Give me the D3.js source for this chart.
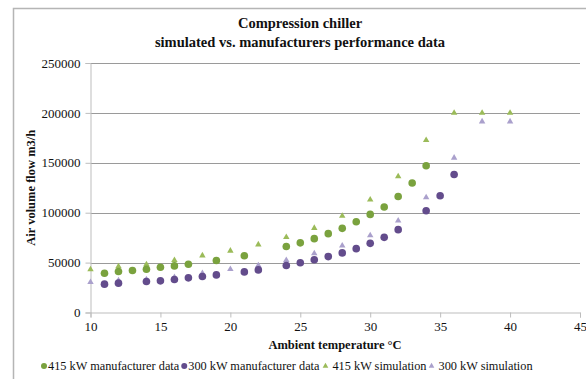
<!DOCTYPE html>
<html>
<head>
<meta charset="utf-8">
<script src="https://cdn.jsdelivr.net/npm/d3@7"></script>
<style>
  body { margin: 0; background: #fff; }
  text { font-family: "Liberation Serif", "Times New Roman", serif; fill: #111; }
</style>
</head>
<body>
<div id="chart"></div>
<script>
// Data
const mfr415T = [11, 12, 13, 14, 15, 16, 17, 19, 21, 24, 25, 26, 27, 28, 29, 30, 31, 32, 33, 34];
const mfr415V = [39400, 41100, 42100, 43400, 45400, 46700, 48400, 52100, 56800, 66100, 69800, 74000, 79000, 84300, 91000, 98300, 105700, 116300, 129700, 147000];

const mfr300T = [11, 12, 14, 15, 16, 17, 18, 19, 21, 22, 24, 25, 26, 27, 28, 29, 30, 31, 32, 34, 35, 36];
const mfr300V = [28400, 29400, 31100, 31700, 33100, 34700, 36100, 37700, 40700, 42700, 47100, 49800, 52900, 56000, 59700, 64000, 69300, 75300, 83000, 102000, 117000, 138300];

const sim415T = [10, 12, 14, 16, 18, 20, 22, 24, 26, 28, 30, 32, 34, 36, 38, 40];
const sim415V = [43100, 46100, 48100, 52400, 57100, 61800, 68100, 75500, 84600, 96700, 113000, 136300, 172700, 200000, 200000, 200000];

const sim300T = [10, 12, 14, 16, 18, 20, 22, 24, 26, 28, 30, 32, 34, 36, 38, 40];
const sim300V = [30400, 32000, 33200, 35400, 39400, 43400, 47100, 52400, 59200, 67000, 77300, 92000, 115300, 155000, 191300, 191300];

const xTicks = [10, 15, 20, 25, 30, 35, 40, 45];
const yTicks = [0, 50000, 100000, 150000, 200000, 250000];

const seriesNames = ["415 kW manufacturer data", "300 kW manufacturer data", "415 kW simulation", "300 kW simulation"];

const width = 586, height = 379;
const margin = {left: 90.5, right: 6, top: 63, bottom: 66.5};
const serif = "'Liberation Serif', 'Times New Roman', serif";

const svg = d3.select("#chart").append("svg")
    .attr("width", width)
    .attr("height", height);

// Outer chart frame
svg.append("rect")
    .attr("x", 13.5).attr("y", 8.5)
    .attr("width", 640).attr("height", 420)
    .attr("fill", "none")
    .attr("stroke", "#b5b5b5")
    .attr("stroke-width", 1.5);

const x = d3.scaleLinear().domain([10, 45]).range([margin.left, width - margin.right]);
const y = d3.scaleLinear().domain([0, 250000]).range([height - margin.bottom, margin.top]);

// Gridlines
svg.append("g")
    .selectAll("line")
    .data(yTicks.slice(1))
    .join("line")
    .attr("x1", x(10)).attr("x2", x(45))
    .attr("y1", d => Math.round(y(d)) + 0.5).attr("y2", d => Math.round(y(d)) + 0.5)
    .attr("stroke", "#9a9a9a");

// Y axis
const yAxis = svg.append("g")
    .attr("transform", `translate(${x(10)},0)`)
    .call(d3.axisLeft(y).tickValues(yTicks).tickSize(5).tickFormat(d3.format("d")));
yAxis.attr("font-family", null);
yAxis.select(".domain").attr("stroke", "#bdbdbd");
yAxis.selectAll(".tick line").attr("stroke", "#bdbdbd");
yAxis.selectAll(".tick text")
    .attr("x", -10)
    .style("font-family", serif)
    .style("font-size", "13px")
    .attr("fill", "#111");

// X axis
const xAxis = svg.append("g")
    .attr("transform", `translate(0,${y(0)})`)
    .call(d3.axisBottom(x).tickValues(xTicks).tickSize(5));
xAxis.attr("font-family", null);
xAxis.select(".domain").attr("stroke", "#bdbdbd");
xAxis.selectAll(".tick line").attr("stroke", "#bdbdbd");
xAxis.selectAll(".tick text")
    .attr("y", 9)
    .style("font-family", serif)
    .style("font-size", "13px")
    .attr("fill", "#111");

// Titles
svg.append("text")
    .attr("x", 300).attr("y", 28)
    .attr("text-anchor", "middle")
    .style("font-size", "14.5px").style("font-weight", "bold")
    .text("Compression chiller");
svg.append("text")
    .attr("x", 300).attr("y", 47)
    .attr("text-anchor", "middle")
    .style("font-size", "14.5px").style("font-weight", "bold")
    .text("simulated vs. manufacturers performance data");

svg.append("text")
    .attr("transform", `translate(35,${(y(0) + y(250000)) / 2}) rotate(-90)`)
    .attr("text-anchor", "middle")
    .style("font-size", "12.5px").style("font-weight", "bold")
    .text("Air volume flow m3/h");

svg.append("text")
    .attr("x", 335).attr("y", 349)
    .attr("text-anchor", "middle")
    .style("font-size", "12.5px").style("font-weight", "bold")
    .text("Ambient temperature °C");

const colors = ["#7aa23e", "#634c8c", "#9bbb59", "#aaa0cc"];
const tri = d3.symbol().type(d3.symbolTriangle).size(18);

// Simulation triangles (drawn first)
function drawTriangles(ts, vs, color) {
    svg.append("g")
        .selectAll("path")
        .data(ts.map((t, i) => [t, vs[i]]))
        .join("path")
        .attr("d", tri)
        .attr("transform", d => `translate(${x(d[0])},${y(d[1])})`)
        .attr("fill", color);
}
function drawCircles(ts, vs, color) {
    svg.append("g")
        .selectAll("circle")
        .data(ts.map((t, i) => [t, vs[i]]))
        .join("circle")
        .attr("cx", d => x(d[0]))
        .attr("cy", d => y(d[1]))
        .attr("r", 3.8)
        .attr("fill", color);
}
drawTriangles(sim415T, sim415V, colors[2]);
drawTriangles(sim300T, sim300V, colors[3]);
drawCircles(mfr415T, mfr415V, colors[0]);
drawCircles(mfr300T, mfr300V, colors[1]);

// Legend
const legend = svg.append("g").attr("transform", "translate(0,370)");
let lx = 44;
seriesNames.forEach((name, i) => {
    if (i < 2) {
        legend.append("circle").attr("cx", lx).attr("cy", -4).attr("r", 3).attr("fill", colors[i]);
    } else {
        legend.append("path").attr("d", d3.symbol().type(d3.symbolTriangle).size(14))
            .attr("transform", `translate(${lx},-4)`).attr("fill", colors[i]);
    }
    const t = legend.append("text")
        .attr("x", lx + (i < 2 ? 4 : 7)).attr("y", 0)
        .style("font-size", "12.3px")
        .text(name);
    lx += (i < 2 ? 4 : 7) + t.node().getComputedTextLength() + (i === 1 ? 6 : 5);
});
</script>
</body>
</html>
